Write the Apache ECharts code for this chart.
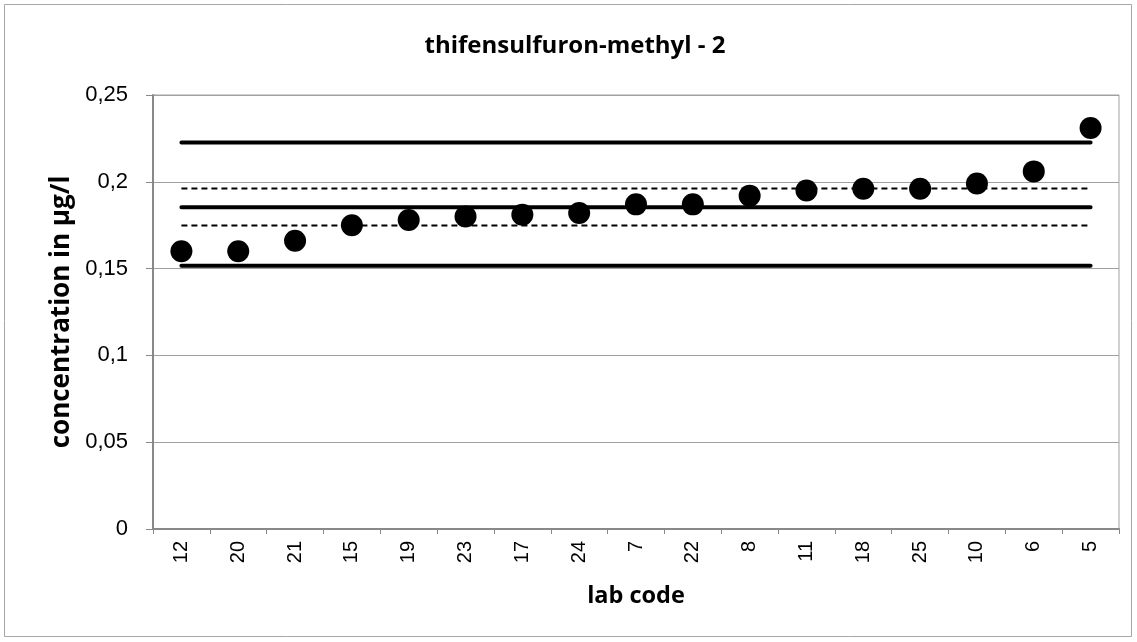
<!DOCTYPE html>
<html><head><meta charset="utf-8">
<script src="https://cdn.jsdelivr.net/npm/echarts@6/dist/echarts.min.js"></script>
<style>html,body{margin:0;padding:0;background:#fff}#c{width:1137px;height:642px}</style>
</head><body><div id="c"></div>
<script>
const labCodes = ['12','20','21','15','19','23','17','24','7','22','8','11','18','25','10','6','5'];
const concentrations = [0.160,0.160,0.166,0.175,0.178,0.180,0.181,0.182,0.187,0.187,0.192,0.195,0.196,0.196,0.199,0.206,0.231];
const assignedValue = 0.1854;
const upperLimit = 0.2227;
const lowerLimit = 0.1517;
const upperUncertainty = 0.1962;
const lowerUncertainty = 0.1748;
const yTicks = [0,0.05,0.1,0.15,0.2,0.25];

const chart = echarts.init(document.getElementById('c'));
const flat = v => labCodes.map(() => v);
const solid = (name, v) => ({name, type:'line', data:flat(v), symbol:'none', silent:true,
  lineStyle:{color:'#000', width:4, cap:'round'}, z:2});
const dashed = (name, v) => ({name, type:'line', data:flat(v), symbol:'none', silent:true,
  lineStyle:{color:'#000', width:2, type:[6,4]}, z:2});

chart.setOption({
  animation:false,
  backgroundColor:'#fff',
  graphic:[{type:'rect', shape:{x:4.5,y:4.5,width:1127,height:632}, style:{fill:'none', stroke:'#a6a6a6', lineWidth:1}, silent:true}],
  title:{text:'thifensulfuron-methyl - 2', left:570, top:29, textAlign:'center',
    textStyle:{fontFamily:'Open Sans', fontWeight:'bold', fontSize:24, color:'#000'}},
  grid:{left:153, right:18, top:95, bottom:113, show:true, borderColor:'#a0a0a0', borderWidth:1},
  xAxis:{type:'category', data:labCodes, boundaryGap:true,
    name:'lab code', nameLocation:'middle', nameGap:55,
    nameTextStyle:{fontFamily:'Open Sans', fontWeight:'bold', fontSize:23.5, color:'#000'},
    axisLine:{lineStyle:{color:'#888', width:2}},
    axisTick:{show:true, alignWithLabel:false, length:5, lineStyle:{color:'#888'}},
    axisLabel:{rotate:90, fontFamily:'Liberation Sans', fontSize:20, color:'#000', margin:12},
    splitLine:{show:false}},
  yAxis:{type:'value', min:0, max:0.25, interval:0.05,
    name:'concentration in µg/l', nameLocation:'middle', nameGap:78, nameRotate:90,
    nameTextStyle:{fontFamily:'Open Sans', fontWeight:'bold', fontSize:26, color:'#000'},
    axisLine:{show:true, lineStyle:{color:'#888', width:2}},
    axisTick:{show:true, length:7, lineStyle:{color:'#888'}},
    axisLabel:{fontFamily:'Liberation Sans', fontSize:22, color:'#000', margin:25,
      formatter:v => yTicks.includes(+v.toFixed(2)) ? String(+v.toFixed(2)).replace('.',',') : ''},
    splitLine:{show:true, lineStyle:{color:'#a0a0a0', width:1}}},
  series:[
    solid('upper', upperLimit),
    solid('assigned', assignedValue),
    solid('lower', lowerLimit),
    dashed('upperU', upperUncertainty),
    dashed('lowerU', lowerUncertainty),
    {name:'labs', type:'scatter', data:concentrations, symbol:'circle', symbolSize:22,
     itemStyle:{color:'#000', opacity:1}, z:5}
  ]
});
</script></body></html>
